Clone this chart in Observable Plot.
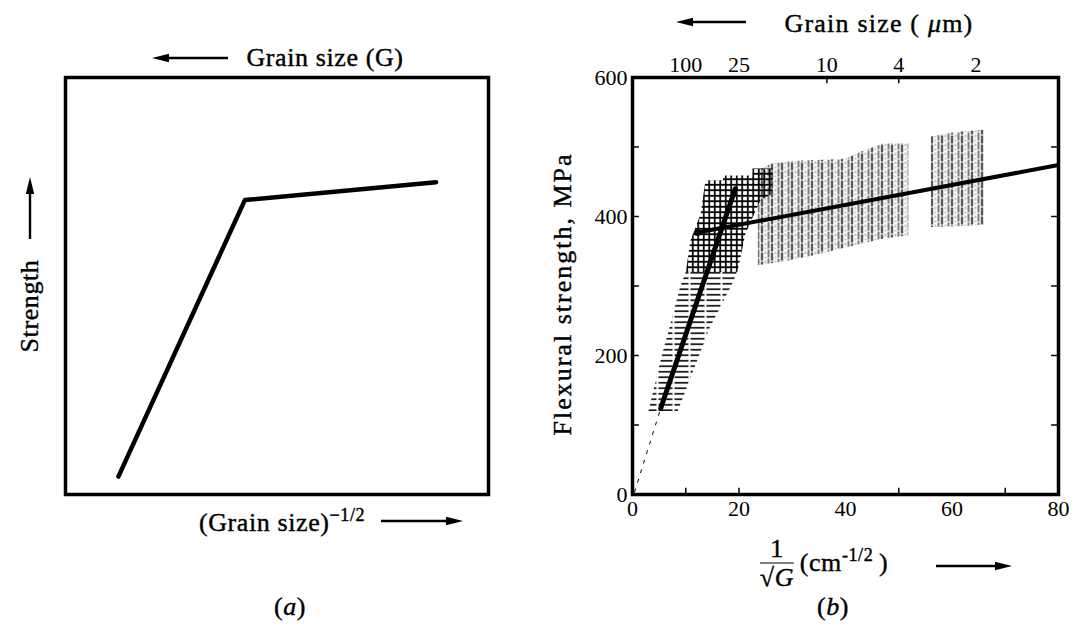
<!DOCTYPE html>
<html><head><meta charset="utf-8">
<script src="https://cdn.jsdelivr.net/npm/d3@7"></script>
<script src="https://cdn.jsdelivr.net/npm/@observablehq/plot@0.6"></script>
<style>
body{margin:0;background:#fff;}
#wrap{position:relative;width:1073px;height:632px;overflow:hidden;font-family:"Liberation Serif",serif;color:#000;}
#wrap > svg{position:absolute;top:0;}
.lbl{position:absolute;white-space:nowrap;font-size:26px;line-height:1;letter-spacing:0.6px;-webkit-text-stroke:0.4px #000;}
.lbl sup{font-size:18px;vertical-align:10px;}
#wrap svg text{-webkit-text-stroke:0.3px #000;}
</style></head><body><div id="wrap"></div>
<script>
// ---- Panel (a): schematic ----
const aX = [12.5, 42.4, 87.6];
const aY = [4.3, 70.6, 74.9];

// ---- Panel (b): flexural strength vs 1/sqrt(G) ----
const xTickVals = [0, 20, 40, 60, 80];
const yTickVals = [0, 200, 400, 600];
const yInnerTicks = [100, 200, 300, 400, 500];
const xInnerTicks = [10, 20, 50, 70];
const topTickPos = [10, 20, 36.5, 50, 64.5];
const topTickLabels = ["100", "25", "10", "4", "2"];
const topInnerTicks = [36.5, 50];

const steepX = [5.3, 19.3], steepY = [124, 440];
const extX = [0.4, 5.3], extY = [4, 124];
const flatX = [12.2, 80], flatY = [377, 474];

// scatter bands (outlines of hatched regions)
const hBandX = [3.0, 8.5, 12.5, 14.5, 18.5, 19.7, 10.0, 9.0, 6.8, 5.5];
const hBandY = [120, 120, 200, 240, 300, 320, 320, 300, 236, 200];
const xBandX = [10, 19.7, 21.2, 22.7, 24, 26.3, 26.3, 22.5, 22.5, 17, 17, 13.7, 12.8, 10.9];
const xBandY = [320, 320, 375, 401, 423, 433, 469, 469, 459, 459, 452, 452, 404, 366];
const vBand1X = [23.5, 26, 30, 40, 42.5, 47, 51.8, 51.8, 47, 42.5, 33.8, 28, 23.5];
const vBand1Y = [466, 476, 480, 483, 492, 505, 505, 373, 368, 360, 344, 335, 330];
const vBand2X = [56, 61, 66, 66, 61, 56];
const vBand2Y = [515, 522, 525, 388, 386, 385];

const pts = (xs, ys) => xs.map((x, i) => ({x, y: ys[i]}));

const wrap = document.getElementById("wrap");

const plotA = Plot.plot({
  width: 530, height: 632,
  marginLeft: 65, marginRight: 42, marginTop: 77, marginBottom: 138,
  x: {domain: [0, 100], axis: null},
  y: {domain: [0, 100], axis: null},
  marks: [
    Plot.frame({stroke: "#000", strokeWidth: 3.5}),
    Plot.line(pts(aX, aY), {x: "x", y: "y", stroke: "#000", strokeWidth: 4.5, strokeLinejoin: "round"})
  ]
});
plotA.style.left = "0px";
wrap.appendChild(plotA);

const plotB = Plot.plot({
  width: 543, height: 632,
  marginLeft: 102, marginRight: 15, marginTop: 77, marginBottom: 138,
  style: {fontFamily: "Liberation Serif", fontSize: "22px", color: "#000", background: "transparent"},
  x: {domain: [0, 80]},
  y: {domain: [0, 600]},
  marks: [
    Plot.line(pts(hBandX, hBandY), {x: "x", y: "y", fill: "url(#hh)", stroke: "none"}),
    Plot.line(pts(vBand1X, vBand1Y), {x: "x", y: "y", fill: "url(#vh)", stroke: "none"}),
    Plot.line(pts(vBand2X, vBand2Y), {x: "x", y: "y", fill: "url(#vh)", stroke: "none"}),
    Plot.line(pts(xBandX, xBandY), {x: "x", y: "y", fill: "url(#xh)", stroke: "none"}),
    Plot.line(pts(extX, extY), {x: "x", y: "y", stroke: "#000", strokeWidth: 1, strokeDasharray: "3,7"}),
    Plot.line(pts(steepX, steepY), {x: "x", y: "y", stroke: "#000", strokeWidth: 5, strokeLinecap: "round"}),
    Plot.line(pts(flatX, flatY), {x: "x", y: "y", stroke: "#000", strokeWidth: 4, strokeLinecap: "butt"}),
    Plot.dot(pts([flatX[0]], [flatY[0]]), {x: "x", y: "y", r: 3.5, fill: "#000", stroke: "none"}),
    Plot.ruleX(xInnerTicks, {y1: 0, y2: 9, stroke: "#000", strokeWidth: 1.5}),
    Plot.ruleX(topInnerTicks, {y1: 600, y2: 591, stroke: "#000", strokeWidth: 1.5}),
    Plot.ruleY(yInnerTicks, {x1: 0, x2: 1.3, stroke: "#000", strokeWidth: 1.5}),
    Plot.ruleY(yInnerTicks, {x1: 78.7, x2: 80, stroke: "#000", strokeWidth: 1.5}),
    Plot.frame({stroke: "#000", strokeWidth: 3.5}),
    Plot.axisX(xTickVals, {tickSize: 0, tickPadding: 6, label: null}),
    Plot.axisY(yTickVals, {tickSize: 0, tickPadding: 5, label: null}),
    Plot.axisX(topTickPos, {anchor: "top", tickSize: 0, tickPadding: 6, label: null,
      tickFormat: d => topTickLabels[topTickPos.indexOf(d)]})
  ]
});
plotB.style.left = "530px";
wrap.appendChild(plotB);

// hatch patterns
const defs = d3.select(plotB).insert("defs", ":first-child");
const ph = defs.append("pattern").attr("id", "hh").attr("patternUnits", "userSpaceOnUse").attr("width", 16).attr("height", 5.5);
ph.append("line").attr("x1", 0).attr("x2", 16).attr("y1", 2.75).attr("y2", 2.75).attr("stroke", "#000").attr("stroke-width", 1.6).attr("stroke-dasharray", "14 2");
const px = defs.append("pattern").attr("id", "xh").attr("patternUnits", "userSpaceOnUse").attr("width", 5.5).attr("height", 5.5);
px.append("path").attr("d", "M0 2.75H5.5M2.75 0V5.5").attr("stroke", "#000").attr("stroke-width", 1.7);
const pv = defs.append("pattern").attr("id", "vh").attr("patternUnits", "userSpaceOnUse").attr("width", 10).attr("height", 9);
pv.append("line").attr("x1", 1.5).attr("x2", 1.5).attr("y1", 0).attr("y2", 9).attr("stroke", "#000").attr("stroke-width", 1.6).attr("stroke-dasharray", "8 1");
pv.append("line").attr("x1", 5).attr("x2", 5).attr("y1", 0).attr("y2", 9).attr("stroke", "#888").attr("stroke-width", 1).attr("stroke-dasharray", "2 2");
pv.append("line").attr("x1", 8).attr("x2", 8).attr("y1", 0).attr("y2", 9).attr("stroke", "#222").attr("stroke-width", 1.2).attr("stroke-dasharray", "5 1");

// ---- text labels & arrows ----
function hArrow(w, left) {
  const head = left ? `M0 5L17 0.8L17 9.2Z` : `M${w} 5L${w - 17} 0.8L${w - 17} 9.2Z`;
  const shaft = left ? `M15 5H${w}` : `M0 5H${w - 15}`;
  return `<svg width="${w}" height="10" style="display:block"><path d="${shaft}" stroke="#000" stroke-width="2.4"/><path d="${head}" fill="#000"/></svg>`;
}
function vArrow(h) {
  return `<svg width="10" height="${h}" style="display:block"><path d="M5 15V${h}" stroke="#000" stroke-width="2.4"/><path d="M5 0L0.8 17L9.2 17Z" fill="#000"/></svg>`;
}
function put(html, x, y, opts = {}) {
  const d = document.createElement("div");
  d.className = "lbl";
  d.innerHTML = html;
  d.style.left = x + "px";
  d.style.top = y + "px";
  d.style.transform = `translate(-50%,-50%)${opts.rotate ? " rotate(-90deg)" : ""}`;
  if (opts.style) Object.assign(d.style, opts.style);
  wrap.appendChild(d);
}

// panel (a)
put(hArrow(76, true), 190, 58);
put("Grain size (G)", 325, 58);
put("Strength", 30, 306, {rotate: true});
put(vArrow(62), 30, 208);
put("(Grain size)<sup>&minus;1/2</sup>", 282, 521);
put(hArrow(82, false), 422, 521);
put("(<i>a</i>)", 290, 607);

// panel (b)
put(hArrow(70, true), 711, 22);
put("Grain size ( <i>&mu;</i>m)", 879, 24, {style: {letterSpacing: "1.2px"}});
put("Flexural strength, MPa", 563, 294, {rotate: true, style: {letterSpacing: "2px"}});
put(`<span style="display:inline-block;text-align:center;vertical-align:middle"><span style="display:block;border-bottom:1.5px solid #000;padding:0 2px 1px">1</span><span style="display:block;padding-top:1px">&radic;<i>G</i></span></span>`, 777, 563);
put("(cm<sup>-1/2</sup>&thinsp;)", 844, 561);
put(hArrow(76, false), 974, 566);
put("(<i>b</i>)", 833, 607);
</script></body></html>
